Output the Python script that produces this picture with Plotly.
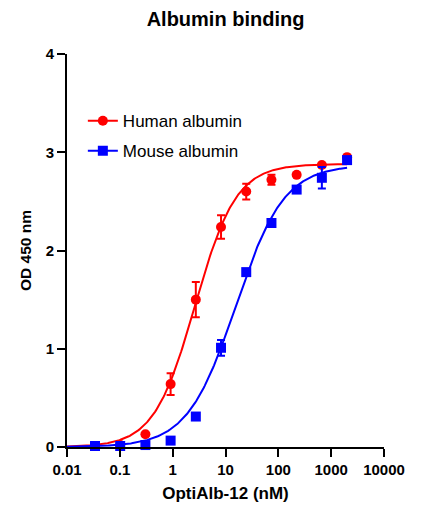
import numpy as np
import plotly.graph_objects as go

# ---- data ----
conc = [0.0339, 0.1016, 0.3048, 0.9144, 2.743, 8.230, 24.69, 74.07, 222.2, 666.7, 2000.0]

human_od = [0.01, 0.02, 0.13, 0.64, 1.50, 2.24, 2.60, 2.72, 2.77, 2.87, 2.95]
human_err = [0.0, 0.0, 0.0, 0.11, 0.18, 0.12, 0.08, 0.05, 0.0, 0.0, 0.0]

mouse_od = [0.01, 0.01, 0.02, 0.065, 0.31, 1.01, 1.78, 2.28, 2.62, 2.74, 2.92]
mouse_err = [0.0, 0.0, 0.0, 0.0, 0.0, 0.08, 0.0, 0.0, 0.0, 0.11, 0.03]

# 4-parameter logistic fit parameters (bottom, top, EC50, hill)
human_fit = (0.0, 2.88, 2.65, 1.12)
mouse_fit = (0.0, 2.87, 15.6, 0.95)

x_tickvals = [0.01, 0.1, 1, 10, 100, 1000, 10000]
x_ticktext = ["0.01", "0.1", "1", "10", "100", "1000", "10000"]
y_tickvals = [0, 1, 2, 3, 4]

RED = "#ff0000"
BLUE = "#0000ff"
FONT = "Liberation Sans, Arial, Helvetica, sans-serif"


def logistic4(x, p):
    bottom, top, ec50, hill = p
    x = np.asarray(x, dtype=float)
    return bottom + (top - bottom) / (1.0 + (ec50 / x) ** hill)


xfit = np.logspace(-2, np.log10(max(conc)), 300)

fig = go.Figure()

series = [
    ("Human albumin", human_od, human_err, human_fit, RED, "circle"),
    ("Mouse albumin", mouse_od, mouse_err, mouse_fit, BLUE, "square"),
]

for name, od, err, fit, col, sym in series:
    fig.add_trace(go.Scatter(
        x=xfit, y=logistic4(xfit, fit), mode="lines",
        line=dict(color=col, width=2), showlegend=False, hoverinfo="skip",
    ))
    fig.add_trace(go.Scatter(
        x=conc, y=od, mode="markers",
        marker=dict(color=col, symbol=sym, size=10, line=dict(width=0)),
        error_y=dict(type="data", array=err, visible=True, color=col,
                     thickness=2, width=4),
        showlegend=False, cliponaxis=False,
    ))
    # legend entry (line + symbol)
    fig.add_trace(go.Scatter(
        x=[None], y=[None], mode="lines+markers", name=name,
        legendgroup=name,
        line=dict(color=col, width=2),
        marker=dict(color=col, symbol=sym, size=10),
    ))

fig.update_layout(
    width=436, height=512,
    margin=dict(l=67, r=52, t=54, b=65),
    paper_bgcolor="white", plot_bgcolor="white",
    font=dict(family=FONT, color="black"),
    title=dict(text="<b>Albumin binding</b>", x=0.5, xref="paper",
               y=1 - 19 / 512, yref="container", yanchor="middle",
               xanchor="center", font=dict(size=20, family=FONT)),
    showlegend=True,
    legend=dict(x=0.05, y=0.875, xanchor="left", yanchor="top",
                bgcolor="rgba(0,0,0,0)", font=dict(size=17, family=FONT),
                itemwidth=30, traceorder="grouped", tracegroupgap=5),
)

fig.update_xaxes(
    type="log", range=[-2, 4],
    tickvals=x_tickvals, ticktext=x_ticktext,
    ticks="outside", ticklen=8, tickwidth=2, tickcolor="black",
    showline=True, linecolor="black", linewidth=2,
    showgrid=False, zeroline=False,
    tickfont=dict(size=15, family=FONT, weight="bold"),
    title=dict(text="<b>OptiAlb-12 (nM)</b>", font=dict(size=17, family=FONT), standoff=10),
)
fig.update_yaxes(
    range=[0, 4], tickvals=y_tickvals,
    ticks="outside", ticklen=8, tickwidth=2, tickcolor="black",
    showline=True, linecolor="black", linewidth=2,
    showgrid=False, zeroline=False,
    tickfont=dict(size=15, family=FONT, weight="bold"),
    title=dict(text="<b>OD 450 nm</b>", font=dict(size=15.5, family=FONT), standoff=10),
)

fig.write_html("out.html")
